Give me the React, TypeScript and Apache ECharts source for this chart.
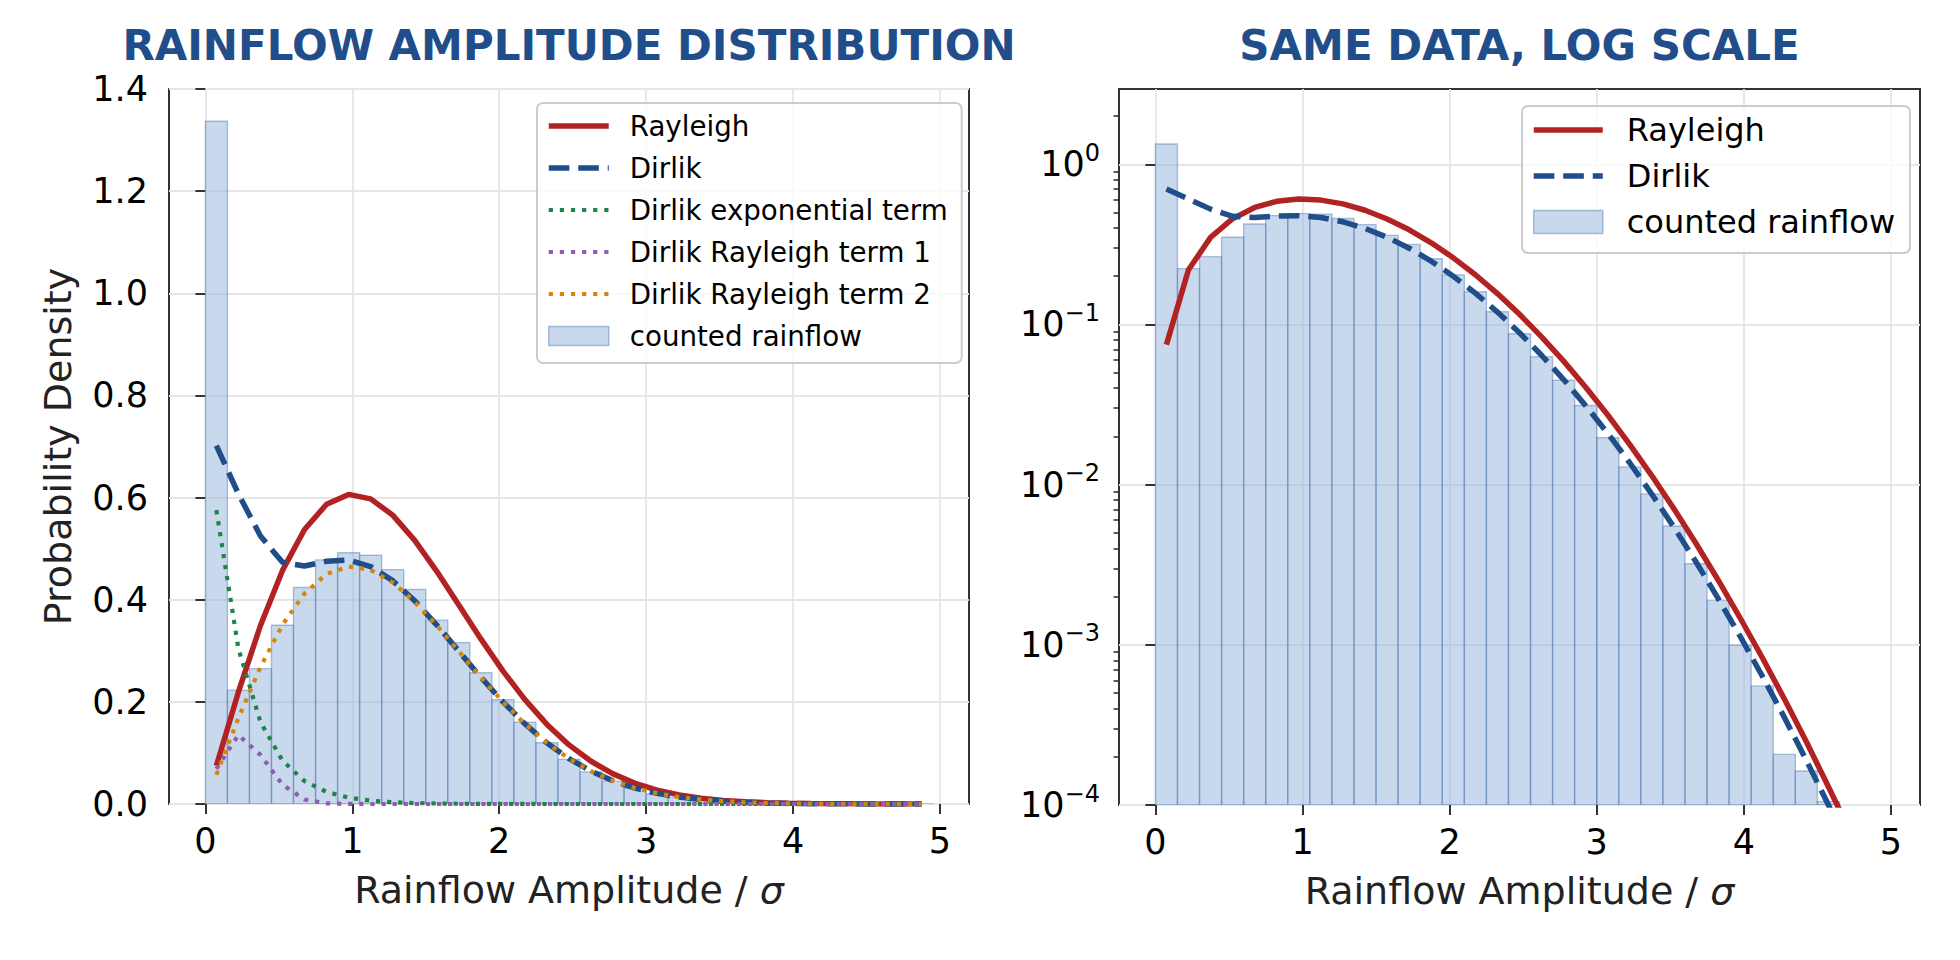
import { useEffect, useRef } from 'react';
import * as echarts from 'echarts';

// bin centres of the rainflow histogram (amplitude / sigma)
const amplitude = [
  0.075, 0.225, 0.375, 0.525, 0.675, 0.825, 0.975, 1.125, 1.275, 1.425, 1.575,
  1.725, 1.875, 2.025, 2.175, 2.325, 2.475, 2.625, 2.775, 2.925, 3.075, 3.225,
  3.375, 3.525, 3.675, 3.825, 3.975, 4.125, 4.275, 4.425, 4.575, 4.725, 4.875,
];
const binWidth = 0.15;

const countedDensity = [
  1.337, 0.223, 0.265, 0.35, 0.424, 0.478, 0.492, 0.487, 0.459, 0.42, 0.36,
  0.316, 0.257, 0.204, 0.16, 0.12, 0.0874, 0.0629, 0.0448, 0.0312, 0.0196, 0.0129,
  0.00875, 0.00552, 0.00321, 0.0019, 0.000996, 0.000554, 0.000207, 0.000163, 0.000105, 0.000035, 0.000035,
];

const rayleighPdf = [
  0.0748, 0.2194, 0.3495, 0.4574, 0.5375, 0.587, 0.6062, 0.5975, 0.5656, 0.5163, 0.4556,
  0.3896, 0.3233, 0.2606, 0.2043, 0.1558, 0.1157, 0.0837, 0.059, 0.04058, 0.0272, 0.01779,
  0.01135, 0.00706, 0.00429, 0.00254, 0.00147, 0.000833, 0.00046, 0.000248, 0.00013, 0.0000672, 0.0000337,
];

const dirlikPdf = [
  0.7016, 0.6072, 0.5247, 0.4732, 0.4659, 0.4752, 0.4776, 0.4649, 0.4373, 0.3978, 0.3504,
  0.2993, 0.2482, 0.2, 0.1568, 0.1195, 0.0888, 0.0642, 0.0453, 0.0311, 0.0209, 0.01365,
  0.0087, 0.00542, 0.00329, 0.00195, 0.00113, 0.000639, 0.000353, 0.00019, 0.0001, 0.0000515, 0.0000258,
];

const dirlikExpTerm = [
  0.5753, 0.3039, 0.1605, 0.0848, 0.0448, 0.0237, 0.0125, 0.0066, 0.0035, 0.0018, 0.00097,
  0.00051, 0.00027, 0.00014, 0.00008, 0.00004, 0.00002, 0.00001, 0.00001, 0, 0, 0,
  0, 0, 0, 0, 0, 0, 0, 0, 0, 0, 0,
];

const dirlikRayleigh1 = [
  0.0689, 0.135, 0.0961, 0.0376, 0.0088, 0.0013, 0.0001, 0, 0, 0, 0,
  0, 0, 0, 0, 0, 0, 0, 0, 0, 0, 0,
  0, 0, 0, 0, 0, 0, 0, 0, 0, 0, 0,
];

const dirlikRayleigh2 = [
  0.0574, 0.1683, 0.2681, 0.3508, 0.4123, 0.4502, 0.465, 0.4583, 0.4338, 0.396, 0.3495,
  0.2988, 0.248, 0.1999, 0.1567, 0.1195, 0.0887, 0.0642, 0.0453, 0.0311, 0.0209, 0.01365,
  0.0087, 0.00542, 0.00329, 0.00195, 0.00113, 0.00064, 0.00035, 0.00019, 0.0001, 0.00005, 0.00003,
];

const xTicks = [0, 1, 2, 3, 4, 5];
const logMajorTicks = [0.0001, 0.001, 0.01, 0.1, 1];
const logMinorTicks = [
  0.0002, 0.0003, 0.0004, 0.0005, 0.0006, 0.0007, 0.0008, 0.0009,
  0.002, 0.003, 0.004, 0.005, 0.006, 0.007, 0.008, 0.009,
  0.02, 0.03, 0.04, 0.05, 0.06, 0.07, 0.08, 0.09,
  0.2, 0.3, 0.4, 0.5, 0.6, 0.7, 0.8, 0.9,
  2,
];

const FONT = '"DejaVu Sans", Verdana, sans-serif';
const TITLE_COLOR = '#1f4e8a';
const RED = '#b22222';
const BLUE = '#1f4e8a';
const GREEN = '#1e8449';
const PURPLE = '#8e5cb5';
const ORANGE = '#d4860b';
const BAR_FILL = 'rgba(148,180,219,0.5)';
const BAR_EDGE = 'rgba(70,110,170,0.42)';
const DASH = [20.6, 8.9];
const DOT = [4.2, 6.9];
const LOG_MIN = 0.0001;
const LOG_MAX = 2.95;

const pairs = (ys: number[]) => amplitude.map((x, i) => [x, ys[i]]);

// legend entry for a line: no marker in the middle of the handle
const lineEntry = (name: string, color: string, width: number, type: any) => ({
  name,
  itemStyle: { opacity: 0 },
  lineStyle: { color, width, type, opacity: 1 },
});

export default function App() {
  const chartRef = useRef<HTMLDivElement>(null);

  useEffect(() => {
    if (!chartRef.current) return;
    const chart = echarts.init(chartRef.current, undefined, { renderer: 'svg' });

    const histData = amplitude.map((x, i) => [x - binWidth / 2, x + binWidth / 2, countedDensity[i]]);

    const histItem = (floor: number) => (_params: any, api: any) => {
      const v = api.value(2);
      if (!(v > floor)) return null;
      const topLeft = api.coord([api.value(0), v]);
      const bottomRight = api.coord([api.value(1), floor]);
      return {
        type: 'rect',
        shape: {
          x: topLeft[0],
          y: topLeft[1],
          width: bottomRight[0] - topLeft[0],
          height: bottomRight[1] - topLeft[1],
        },
        style: { fill: BAR_FILL, stroke: BAR_EDGE, lineWidth: 1.4 },
      };
    };

    const tickLabel = { fontSize: 35, color: '#000', fontFamily: FONT };

    const xAxisBase = (gridIndex: number) => ({
      type: 'value',
      gridIndex,
      min: -0.2475,
      max: 5.1975,
      name: '{t|Rainflow Amplitude / }{s|σ}',
      nameLocation: 'middle',
      nameGap: 67,
      nameTextStyle: {
        fontSize: 38,
        color: '#222',
        fontFamily: FONT,
        rich: {
          t: { fontSize: 38, color: '#222', fontFamily: FONT },
          s: { fontSize: 38, color: '#222', fontFamily: FONT, fontStyle: 'italic' },
        },
      },
      axisLine: { show: false },
      axisTick: { show: true, length: 10, customValues: xTicks, lineStyle: { color: '#333', width: 2 } },
      axisLabel: { ...tickLabel, margin: 19, customValues: xTicks, formatter: (v: number) => String(v) },
      splitLine: { show: true, lineStyle: { color: '#e6e6e6', width: 1.8 } },
    });

    const option: any = {
      animation: false,
      backgroundColor: '#ffffff',
      textStyle: { fontFamily: FONT },
      graphic: [
        {
          type: 'text',
          x: 569,
          y: 45,
          style: {
            text: 'RAINFLOW AMPLITUDE DISTRIBUTION',
            font: `bold 42px ${FONT}`,
            lineHeight: 32,
            fill: TITLE_COLOR,
            align: 'center',
            verticalAlign: 'middle',
          },
        },
        {
          type: 'text',
          x: 1519.5,
          y: 45,
          style: {
            text: 'SAME DATA, LOG SCALE',
            font: `bold 42px ${FONT}`,
            lineHeight: 32,
            fill: TITLE_COLOR,
            align: 'center',
            verticalAlign: 'middle',
          },
        },
      ],
      grid: [
        { left: 169, top: 89, width: 800, height: 715, show: true, borderColor: '#333', borderWidth: 2 },
        { left: 1119, top: 89, width: 801, height: 716, show: true, borderColor: '#333', borderWidth: 2 },
      ],
      xAxis: [xAxisBase(0), xAxisBase(1)],
      yAxis: [
        {
          type: 'value',
          gridIndex: 0,
          min: 0,
          max: 1.4,
          interval: 0.2,
          name: 'Probability Density',
          nameLocation: 'middle',
          nameRotate: 90,
          nameGap: 92,
          nameTextStyle: { fontSize: 38, color: '#222', fontFamily: FONT },
          axisLine: { show: false },
          axisTick: { show: true, length: 10, lineStyle: { color: '#333', width: 2 } },
          axisLabel: { ...tickLabel, margin: 21, formatter: (v: number) => v.toFixed(1) },
          splitLine: { show: true, lineStyle: { color: '#e6e6e6', width: 1.8 } },
        },
        {
          type: 'log',
          logBase: 10,
          gridIndex: 1,
          min: LOG_MIN,
          max: LOG_MAX,
          axisLine: { show: false },
          axisTick: { show: true, length: 10, customValues: logMajorTicks, lineStyle: { color: '#333', width: 2 } },
          axisLabel: {
            margin: 19,
            customValues: logMajorTicks,
            formatter: (v: number) => {
              const e = Math.round(Math.log10(v));
              if (Math.abs(Math.log10(v) - e) > 1e-6) return '';
              return `{b|10}{e|${e < 0 ? '−' + -e : e}}`;
            },
            rich: {
              b: { fontSize: 35, color: '#000', fontFamily: FONT, lineHeight: 47 },
              e: { fontSize: 24, color: '#000', fontFamily: FONT, lineHeight: 24, verticalAlign: 'top' },
            },
          },
          splitLine: { show: true, lineStyle: { color: '#e6e6e6', width: 1.8 } },
        },
        {
          // minor ticks of the log axis
          type: 'log',
          logBase: 10,
          gridIndex: 1,
          position: 'left',
          min: LOG_MIN,
          max: LOG_MAX,
          axisLine: { show: false },
          axisTick: { show: true, length: 5.5, customValues: logMinorTicks, lineStyle: { color: '#333', width: 1.6 } },
          axisLabel: { show: false },
          splitLine: { show: false },
        },
      ],
      legend: [
        {
          left: 537,
          top: 103,
          orient: 'vertical',
          selectedMode: false,
          padding: [9, 14, 13, 9],
          itemWidth: 60,
          itemHeight: 19,
          itemGap: 14,
          backgroundColor: 'rgba(255,255,255,0.8)',
          borderColor: '#cccccc',
          borderWidth: 2,
          borderRadius: 6,
          textStyle: { fontSize: 27.7, color: '#000', fontFamily: FONT, padding: [0, 0, 0, 16] },
          data: [
            lineEntry('Rayleigh', RED, 5.5, 'solid'),
            lineEntry('Dirlik', BLUE, 5.5, DASH),
            lineEntry('Dirlik exponential term', GREEN, 4.2, DOT),
            lineEntry('Dirlik Rayleigh term 1', PURPLE, 4.2, DOT),
            lineEntry('Dirlik Rayleigh term 2', ORANGE, 4.2, DOT),
            { name: 'counted rainflow', icon: 'rect', itemStyle: { color: BAR_FILL, borderColor: BAR_EDGE, borderWidth: 1.5 } },
          ],
        },
        {
          left: 1522,
          top: 106,
          orient: 'vertical',
          selectedMode: false,
          padding: [8, 15, 15, 9],
          itemWidth: 69,
          itemHeight: 23,
          itemGap: 14,
          backgroundColor: 'rgba(255,255,255,0.8)',
          borderColor: '#cccccc',
          borderWidth: 2,
          borderRadius: 6,
          textStyle: { fontSize: 32, color: '#000', fontFamily: FONT, padding: [0, 0, 0, 19] },
          data: [
            lineEntry('Rayleigh', RED, 5.5, 'solid'),
            lineEntry('Dirlik', BLUE, 5.5, DASH),
            { name: 'counted rainflow', icon: 'rect', itemStyle: { color: BAR_FILL, borderColor: BAR_EDGE, borderWidth: 1.5 } },
          ],
        },
      ],
      series: [
        {
          name: 'counted rainflow',
          type: 'custom',
          xAxisIndex: 0,
          yAxisIndex: 0,
          clip: true,
          itemStyle: { color: BAR_FILL, borderColor: BAR_EDGE, borderWidth: 1.4 },
          encode: { x: [0, 1], y: 2 },
          renderItem: histItem(0),
          data: histData,
        },
        {
          name: 'counted rainflow',
          type: 'custom',
          xAxisIndex: 1,
          yAxisIndex: 1,
          clip: true,
          itemStyle: { color: BAR_FILL, borderColor: BAR_EDGE, borderWidth: 1.4 },
          encode: { x: [0, 1], y: 2 },
          renderItem: histItem(LOG_MIN),
          data: histData,
        },
        {
          name: 'Rayleigh',
          type: 'line',
          xAxisIndex: 0,
          yAxisIndex: 0,
          symbol: 'none',
          itemStyle: { color: RED },
          lineStyle: { color: RED, width: 5.5 },
          data: pairs(rayleighPdf),
        },
        {
          name: 'Dirlik',
          type: 'line',
          xAxisIndex: 0,
          yAxisIndex: 0,
          symbol: 'none',
          itemStyle: { color: BLUE },
          lineStyle: { color: BLUE, width: 5.5, type: DASH },
          data: pairs(dirlikPdf),
        },
        {
          name: 'Dirlik exponential term',
          type: 'line',
          xAxisIndex: 0,
          yAxisIndex: 0,
          symbol: 'none',
          itemStyle: { color: GREEN },
          lineStyle: { color: GREEN, width: 4.2, type: DOT },
          data: pairs(dirlikExpTerm),
        },
        {
          name: 'Dirlik Rayleigh term 1',
          type: 'line',
          xAxisIndex: 0,
          yAxisIndex: 0,
          symbol: 'none',
          itemStyle: { color: PURPLE },
          lineStyle: { color: PURPLE, width: 4.2, type: DOT },
          data: pairs(dirlikRayleigh1),
        },
        {
          name: 'Dirlik Rayleigh term 2',
          type: 'line',
          xAxisIndex: 0,
          yAxisIndex: 0,
          symbol: 'none',
          itemStyle: { color: ORANGE },
          lineStyle: { color: ORANGE, width: 4.2, type: DOT },
          data: pairs(dirlikRayleigh2),
        },
        {
          name: 'Rayleigh',
          type: 'line',
          xAxisIndex: 1,
          yAxisIndex: 1,
          symbol: 'none',
          itemStyle: { color: RED },
          lineStyle: { color: RED, width: 5.5 },
          data: pairs(rayleighPdf),
        },
        {
          name: 'Dirlik',
          type: 'line',
          xAxisIndex: 1,
          yAxisIndex: 1,
          symbol: 'none',
          itemStyle: { color: BLUE },
          lineStyle: { color: BLUE, width: 5.5, type: DASH },
          data: pairs(dirlikPdf),
        },
      ],
    };

    chart.setOption(option);

    return () => {
      chart.dispose();
    };
  }, []);

  return (
    <div
      ref={chartRef}
      style={{ position: 'fixed', left: 0, top: 0, width: 1960, height: 960, background: '#fff' }}
    />
  );
}
